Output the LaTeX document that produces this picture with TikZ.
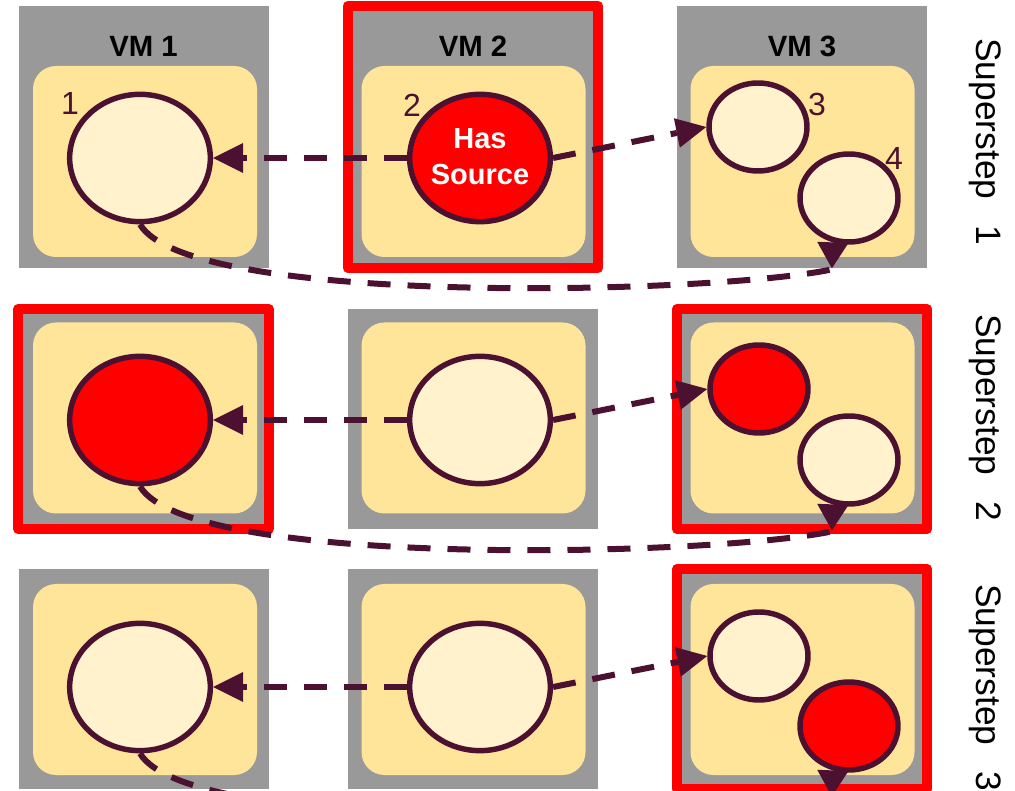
\documentclass[tikz,border=0pt]{standalone}
\usepackage{fontspec}
\setmainfont{Liberation Sans}
\usetikzlibrary{arrows.meta,shapes.geometric}
\definecolor{vmgray}{HTML}{999999}
\definecolor{slot}{HTML}{FFE599}
\definecolor{vertex}{HTML}{FFF2CC}
\definecolor{ink}{HTML}{4C1130}
\definecolor{hot}{HTML}{FF0000}

\begin{document}
\begin{tikzpicture}[x=0.75pt,y=-0.75pt,
  vmbox/.style={rectangle, fill=vmgray, inner sep=0pt, minimum width=187.5pt},
  rowtop/.style={minimum height=196.5pt},
  rowlow/.style={minimum height=165pt},
  slotbox/.style={rectangle, rounded corners=17.25pt, fill=slot, inner sep=0pt,
    minimum width=168pt, minimum height=143.25pt},
  big/.style={ellipse, draw=ink, line width=4.1pt, inner sep=0pt,
    minimum width=105.5pt, minimum height=95.5pt},
  small/.style={ellipse, draw=ink, line width=4.1pt, inner sep=0pt,
    minimum width=73.5pt, minimum height=66pt},
  idle/.style={fill=vertex},
  active/.style={fill=hot},
  busy/.style={draw=hot, line width=7.2pt, line join=round},
  msg/.style={draw=ink, line width=4.5pt, dash pattern=on 17.25pt off 12.75pt},
  send/.style={msg, -{Triangle[length=22.5pt, width=22.5pt, line width=0pt]}},
  loop/.style={msg, -{Triangle[reversed, length=19.5pt, width=23.5pt, line width=0pt]}},
  vmlabel/.style={font=\bfseries\fontsize{22}{26}\selectfont, inner sep=0pt},
  vid/.style={text=ink, font=\fontsize{24}{28}\selectfont, inner sep=0pt},
  steplabel/.style={rotate=-90, font=\fontsize{26.5}{30}\selectfont, inner sep=0pt},
]
\useasboundingbox (0,0) rectangle (1015,791);
\clip (0,0) rectangle (1015,791);
\fill[white] (0,0) rectangle (1015,791);

% virtual machines, one row per superstep
\node[vmbox,rowtop] (g11) at (143.5,137) {};
\node[vmbox,rowtop] (g12) at (473,137) {};
\node[vmbox,rowtop] (g13) at (802,137) {};
\node[vmbox,rowlow] (g21) at (143.5,419) {};
\node[vmbox,rowlow] (g22) at (473,419) {};
\node[vmbox,rowlow] (g23) at (802,419) {};
\node[vmbox,rowlow] (g31) at (143.5,679) {};
\node[vmbox,rowlow] (g32) at (473,679) {};
\node[vmbox,rowlow] (g33) at (802,679) {};

% partitions inside each machine
\node[slotbox] (s11) at (145,161.5) {};
\node[slotbox] (s12) at (473.5,161.5) {};
\node[slotbox] (s13) at (802.5,161.5) {};
\node[slotbox] (s21) at (145,418) {};
\node[slotbox] (s22) at (473.5,418) {};
\node[slotbox] (s23) at (802.5,418) {};
\node[slotbox] (s31) at (145,679.5) {};
\node[slotbox] (s32) at (473.5,679.5) {};
\node[slotbox] (s33) at (802.5,679.5) {};

% machines that are active in a superstep
\draw[busy] (g12.north west) rectangle (g12.south east);
\draw[busy] (g21.north west) rectangle (g21.south east);
\draw[busy] (g23.north west) rectangle (g23.south east);
\draw[busy] (g33.north west) rectangle (g33.south east);

% machine names
\node[vmlabel] (l1) at (143.5,46) {VM 1};
\node[vmlabel] (l2) at (473,46) {VM 2};
\node[vmlabel] (l3) at (802,46) {VM 3};

% vertices
\node[big,idle]    (c11) at (140,158) {};
\node[big,active]  (c12) at (480,158) {};
\node[small,idle]  (c13) at (758,127) {};
\node[small,idle]  (c14) at (849,198) {};
\node[big,active]  (c21) at (140,420) {};
\node[big,idle]    (c22) at (480,420) {};
\node[small,active](c23) at (759,389) {};
\node[small,idle]  (c24) at (849,460) {};
\node[big,idle]    (c31) at (140,687) {};
\node[big,idle]    (c32) at (480,687) {};
\node[small,idle]  (c33) at (759,656) {};
\node[small,active](c34) at (849,726) {};

\node[font=\bfseries\fontsize{21.75}{27}\selectfont, text=white, align=center,
  inner sep=0pt] (src) at (480,157) {Has\\Source};

% vertex ids
\node[vid] (n1) at (70,103) {1};
\node[vid] (n2) at (412,105) {2};
\node[vid] (n3) at (817,104) {3};
\node[vid] (n4) at (894,158) {4};

% messages: to the neighbours, and the long one back round to vertex 4
\foreach \r in {1,2,3}{
  \draw[send] (c\r2.west) -- (c\r1.east);
  \draw[send] (c\r2.east) -- (c\r3.west);
  \path (c\r4.250) ++(-1,27) coordinate (k\r);
  \draw[loop] (c\r1.south) .. controls +(50,84) and +(-112,24) .. (k\r)
    -- (c\r4.250);
}

% superstep labels
\node[steplabel] (t1) at (985,142) {Superstep\hspace{0.75em}1};
\node[steplabel] (t2) at (985,418) {Superstep\hspace{0.75em}2};
\node[steplabel] (t3) at (985,688) {Superstep\hspace{0.75em}3};
\end{tikzpicture}
\end{document}
